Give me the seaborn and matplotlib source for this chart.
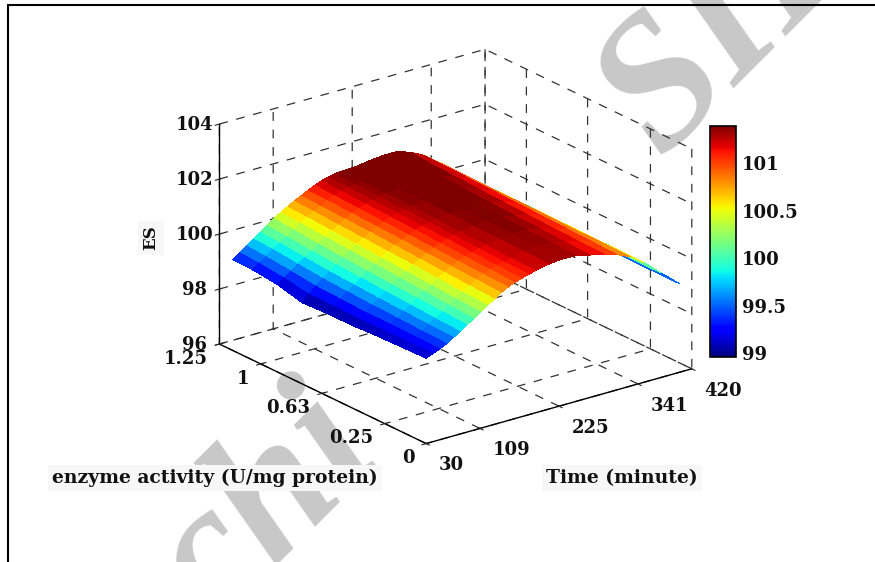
import numpy as np
import matplotlib
matplotlib.use("Agg")
import matplotlib.pyplot as plt
from matplotlib.cm import ScalarMappable
from matplotlib.colors import Normalize
from matplotlib.lines import Line2D
import seaborn as sns

# ES surface, one list per enzyme level
times = [30, 40, 50, 60, 70, 80, 90, 100, 110, 120, 130, 140, 150, 160, 170, 180, 190, 210, 230, 250, 270, 290, 310, 330, 350, 375, 402]
enzyme = [0, 0.15, 0.30, 0.45, 0.60, 0.75, 0.90, 1.05, 1.17]
es_e000 = [99.10, 99.20, 99.30, 99.42, 99.58, 99.72, 99.90, 100.05, 100.22, 100.40, 100.55, 100.72, 100.85, 100.95, 101.03, 101.10, 101.17, 101.27, 101.32, 101.30, 101.18, 101.08, 100.92, 100.70, 100.35, 99.80, 99.22]
es_e015 = [99.08, 99.19, 99.31, 99.45, 99.61, 99.76, 99.94, 100.10, 100.27, 100.44, 100.60, 100.75, 100.88, 100.98, 101.06, 101.13, 101.19, 101.29, 101.34, 101.33, 101.22, 101.11, 100.95, 100.71, 100.36, 99.80, 99.22]
es_e030 = [99.05, 99.18, 99.33, 99.49, 99.65, 99.82, 99.99, 100.17, 100.33, 100.50, 100.65, 100.80, 100.92, 101.02, 101.10, 101.17, 101.23, 101.31, 101.36, 101.36, 101.26, 101.14, 100.98, 100.72, 100.36, 99.80, 99.22]
es_e045 = [99.00, 99.16, 99.33, 99.52, 99.69, 99.87, 100.04, 100.24, 100.39, 100.56, 100.71, 100.85, 100.97, 101.07, 101.15, 101.21, 101.27, 101.33, 101.38, 101.39, 101.30, 101.18, 101.01, 100.73, 100.37, 99.81, 99.23]
es_e060 = [99.00, 99.18, 99.37, 99.57, 99.75, 99.93, 100.10, 100.30, 100.45, 100.61, 100.76, 100.90, 101.01, 101.11, 101.19, 101.25, 101.30, 101.36, 101.40, 101.42, 101.34, 101.22, 101.04, 100.74, 100.37, 99.81, 99.23]
es_e075 = [98.95, 99.18, 99.41, 99.62, 99.80, 99.98, 100.16, 100.36, 100.51, 100.66, 100.81, 100.94, 101.05, 101.15, 101.23, 101.28, 101.33, 101.38, 101.42, 101.45, 101.38, 101.26, 101.07, 100.75, 100.38, 99.82, 99.24]
es_e090 = [99.18, 99.34, 99.52, 99.71, 99.88, 100.05, 100.23, 100.42, 100.56, 100.71, 100.85, 100.98, 101.09, 101.19, 101.26, 101.31, 101.36, 101.40, 101.45, 101.48, 101.43, 101.30, 101.10, 100.76, 100.38, 99.82, 99.24]
es_e105 = [99.28, 99.44, 99.61, 99.80, 99.97, 100.13, 100.31, 100.48, 100.62, 100.76, 100.89, 101.02, 101.13, 101.23, 101.30, 101.35, 101.38, 101.41, 101.47, 101.52, 101.48, 101.34, 101.13, 100.77, 100.39, 99.83, 99.25]
es_e117 = [99.30, 99.48, 99.66, 99.84, 100.02, 100.18, 100.38, 100.52, 100.66, 100.80, 100.92, 101.04, 101.16, 101.26, 101.33, 101.38, 101.40, 101.42, 101.50, 101.55, 101.55, 101.40, 101.15, 100.78, 100.39, 99.83, 99.25]

time_ticks = [30, 109, 225, 341, 420]
enzyme_ticks = [0, 0.25, 0.63, 1, 1.25]
es_ticks = [96, 98, 100, 102, 104]
cbar_ticks = [99, 99.5, 100, 100.5, 101]
cbar_labels = ["99", "99.5", "100", "100.5", "101"]

sns.set_style("white")
plt.rcParams["font.family"] = ["DejaVu Serif"]
plt.rcParams["font.weight"] = "bold"

fig = plt.figure(figsize=(8.75, 5.62), dpi=100)

# frame of the page, top and left only
fig.add_artist(Line2D([8 / 875, 1], [1 - 5 / 562, 1 - 5 / 562], color="black", lw=1.5))
fig.add_artist(Line2D([8 / 875, 8 / 875], [0, 1 - 5 / 562], color="black", lw=1.5))

# watermark
grey = "#c8c8c8"
fig.text(740 / 875, 1 - 15 / 562, "SID", fontsize=135, style="italic", color=grey, rotation=45,
         family="Liberation Serif", ha="center", va="center", zorder=-1)
fig.text(267 / 875, 1 - 508 / 562, "chi", fontsize=135, style="italic", color=grey, rotation=45,
         family="Liberation Serif", ha="center", va="center", zorder=-1)

ax = fig.add_axes([0.012, 0.048, 1, 1], projection="3d", proj_type="ortho")
ax.patch.set_alpha(0)
ax.view_init(elev=21.6, azim=-127.4)
ax.set_box_aspect((335, 341, 237), zoom=0.92)

T, E = np.meshgrid(times, enzyme)
Z = np.array([es_e000, es_e015, es_e030, es_e045, es_e060, es_e075, es_e090, es_e105, es_e117])
jet = plt.get_cmap("jet")
norm = Normalize(98.96, 101.39)
ax.plot_surface(T, E, Z, cmap=jet, norm=norm, rstride=1, cstride=1, linewidth=0,
                antialiased=False, shade=False)

ax.set_xlim(30, 420, view_margin=0)
ax.set_ylim(0, 1.25, view_margin=0)
ax.set_zlim(96, 104, view_margin=0)
ax.set_xticks(time_ticks)
ax.set_xticklabels([str(t) for t in time_ticks], ha="left", va="center_baseline")
ax.set_yticks(enzyme_ticks)
ax.set_yticklabels(["0", "0.25", "0.63", "1", "1.25"], ha="right", va="center_baseline")
ax.set_zticks(es_ticks)
ax.set_zticklabels([str(t) for t in es_ticks], va="center_baseline")
ax.tick_params(labelsize=13, pad=3, labelcolor="#111111")
ax.xaxis.set_tick_params(pad=5)
ax.yaxis.set_tick_params(pad=1)

for axis in (ax.xaxis, ax.yaxis, ax.zaxis):
    axis.set_pane_color((1, 1, 1, 0))
    axis.pane.set_edgecolor((1, 1, 1, 0))
    axis._axinfo["grid"].update(color="#333333", linestyle=(0, (7, 7)), linewidth=0.9)
    axis._axinfo["axisline"]["color"] = "black"
    axis.line.set_color("black")
    axis.line.set_linewidth(1.0)

label_box = dict(facecolor="#f7f7f7", edgecolor="none", pad=3)
fig.text(215 / 875, 1 - 478 / 562, "enzyme activity (U/mg protein)", fontsize=13.5, color="#111111",
         ha="center", va="center", bbox=label_box, zorder=5)
fig.text(622 / 875, 1 - 478 / 562, "Time (minute)", fontsize=13.5, color="#111111",
         ha="center", va="center", bbox=label_box, zorder=5)
fig.text(151 / 875, 1 - 238 / 562, "ES", fontsize=12, color="#111111", rotation=90,
         ha="center", va="center", bbox=label_box, zorder=5)

cax = fig.add_axes([710 / 875, 1 - 357 / 562, 26 / 875, 231 / 562])
cbar = fig.colorbar(ScalarMappable(norm=norm, cmap=jet), cax=cax, ticks=cbar_ticks)
cbar.ax.set_yticklabels(cbar_labels)
cbar.ax.tick_params(labelsize=13, length=2, direction="in", right=True, left=True, pad=4, labelcolor="#111111")
cbar.outline.set_linewidth(1.2)
cbar.outline.set_edgecolor("black")

fig.savefig("out.png", dpi=100)
